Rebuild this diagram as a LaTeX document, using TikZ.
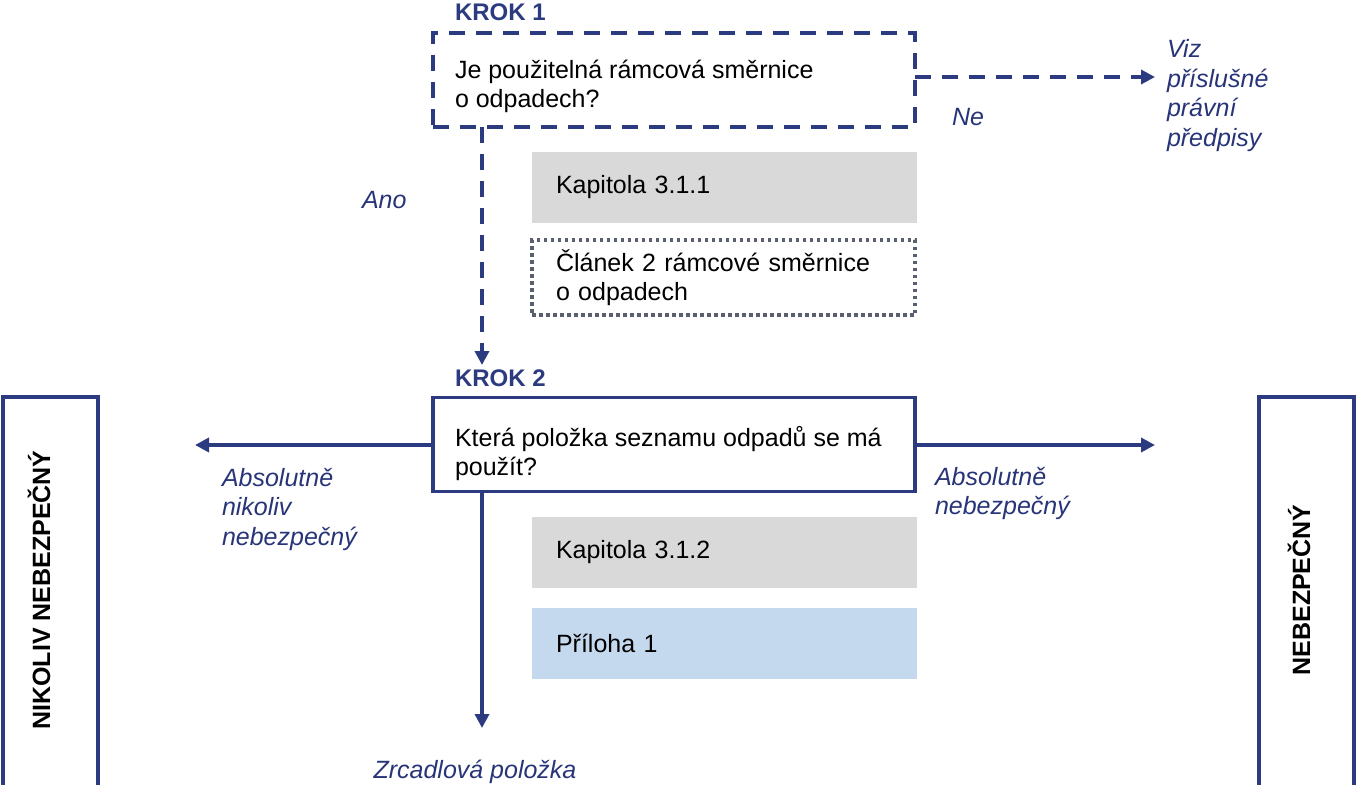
\documentclass[tikz,border=0pt]{standalone}
\usepackage{fontspec}
\setmainfont{Liberation Sans}
\usetikzlibrary{arrows.meta}
\definecolor{navy}{RGB}{44,58,128}
\definecolor{lbl}{RGB}{40,52,120}
\definecolor{graybox}{RGB}{217,217,217}
\definecolor{bluebox}{RGB}{197,217,238}
\definecolor{dotgray}{RGB}{90,96,112}
\tikzset{
  x=1pt, y=-1pt,
  every node/.style={font=\fontsize{25pt}{29pt}\selectfont, inner sep=0pt, outer sep=0pt},
  boxbase/.style={rectangle, minimum width=482pt, minimum height=94pt},
  dashbox/.style={boxbase, draw=navy, line width=4pt, dash pattern=on 16pt off 11pt},
  solidbox/.style={boxbase, draw=navy, line width=3.5pt},
  infobox/.style={rectangle, minimum width=385pt, minimum height=71pt, text width=337pt, align=left},
  graybx/.style={infobox, fill=graybox},
  bluebx/.style={infobox, fill=bluebox},
  dotbx/.style={infobox, minimum width=383pt, minimum height=75pt, text width=335pt, draw=dotgray, line width=3.5pt, dash pattern=on 3.5pt off 3.5pt},
  sidebox/.style={rectangle, draw=navy, line width=3.5pt, minimum width=95pt, minimum height=400pt},
  steplabel/.style={font=\fontsize{24pt}{29pt}\selectfont\bfseries, text=navy, anchor=west},
  boxtext/.style={anchor=west, align=left},
  flowlabel/.style={font=\fontsize{25pt}{29.5pt}\selectfont\itshape, text=lbl, align=left},
  flowarrow/.style={draw=navy, line width=3.5pt, -{Triangle[length=14pt,width=14pt]}},
  dasharrow/.style={flowarrow, dash pattern=on 16pt off 11pt},
  sidetext/.style={font=\fontsize{25pt}{29pt}\selectfont\bfseries, rotate=90}
}
\begin{document}
\begin{tikzpicture}
\useasboundingbox (0,0) rectangle (1356,784);
\clip (0,0) rectangle (1356,784);

% Step 1
\node[steplabel] (krok1) at (455,12) {KROK 1};
\node[dashbox] (box1) at (674,80) {};
\node[boxtext] (q1) at (455,86) {Je použitelná rámcová směrnice\\o odpadech?};
\node[graybx] (kap311) at (724.5,187.5) {Kapitola 3.1.1};
\node[dotbx] (clanek) at (723.5,277.5) {Článek 2 rámcové směrnice\\o odpadech};

\coordinate (neend) at (1155,77);
\draw[dasharrow] (box1.east |- neend) -- (neend);
\node[flowlabel, anchor=west] (ne) at (952,117) {Ne};
\node[flowlabel, anchor=west] (viz) at (1167,95.5) {Viz\\příslušné\\právní\\předpisy};

% Step 2
\node[steplabel] (krok2) at (455,378) {KROK 2};
\node[solidbox] (box2) at (674,444.5) {};
\node[boxtext] (q2) at (455,453.5) {Která položka seznamu odpadů se má\\použít?};
\node[graybx] (kap312) at (724.5,552.5) {Kapitola 3.1.2};
\node[bluebx] (priloha) at (724.5,643.5) {Příloha 1};

\coordinate (anoend) at (482,365);
\draw[dasharrow] (box1.south -| anoend) -- (anoend);
\node[flowlabel, anchor=west] (ano) at (362,200) {Ano};

% Side boxes
\node[sidebox] (nikoliv) at (50.5,597) {};
\node[sidetext] (nikolivtxt) at (39,590) {NIKOLIV NEBEZPEČNÝ};
\node[sidebox] (nebezp) at (1306.5,597) {};
\node[sidetext] (nebezptxt) at (1299,590) {NEBEZPEČNÝ};

% Arrows from step 2
\coordinate (leftend) at (195,445);
\coordinate (rightend) at (1155,445);
\coordinate (downend) at (482,728);
\draw[flowarrow] (box2.west |- leftend) -- (leftend);
\draw[flowarrow] (box2.east |- rightend) -- (rightend);
\draw[flowarrow] (box2.south -| downend) -- (downend);

\node[flowlabel, anchor=west] (absnik) at (222,509) {Absolutně\\nikoliv\\nebezpečný};
\node[flowlabel, anchor=west] (absneb) at (935,493.5) {Absolutně\\nebezpečný};
\node[flowlabel] (zrcadl) at (475,772) {Zrcadlová položka};
\end{tikzpicture}
\end{document}
